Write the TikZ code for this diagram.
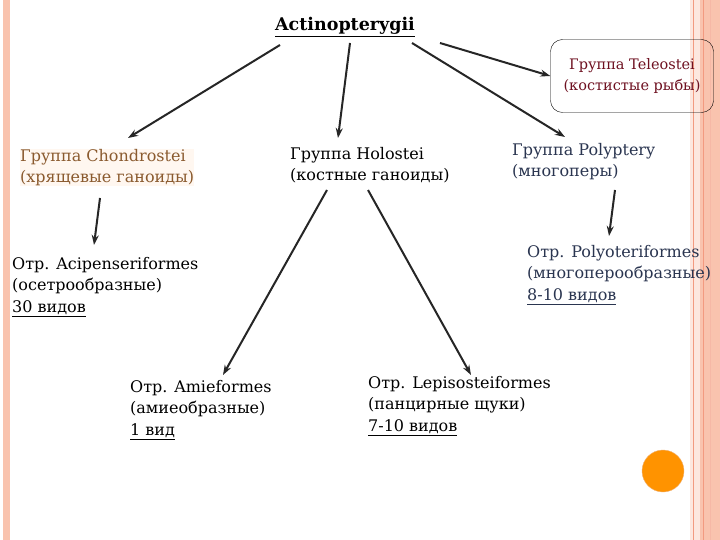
\documentclass[tikz,border=0pt]{standalone}
\usepackage{fontspec}
\setmainfont{DejaVu Serif}
\usetikzlibrary{arrows.meta}
\definecolor{salmon}{HTML}{F9C3AE}
\definecolor{salmonD}{HTML}{F29A80}
\definecolor{brownT}{HTML}{8A5A2E}
\definecolor{redT}{HTML}{6E1020}
\definecolor{blueT}{HTML}{2A3550}
\tikzset{
  lbl/.style={anchor=north west, align=left, inner sep=0pt, font=\fontsize{16}{21.5}\selectfont},
  arr/.style={-{Stealth[length=10pt,width=7pt]}, line width=2pt, black!85}
}
\begin{document}
\begin{tikzpicture}[x=1pt,y=-1pt]
\useasboundingbox (0,0) rectangle (720,540);
\fill[white] (0,0) rectangle (720,540);
% left stripe
\fill[salmon] (3,0) rectangle (10,540);
% right stripes
\fill[salmon!40] (690,0) rectangle (720,540);
\fill[salmon] (700,0) rectangle (720,540);
\draw[salmonD, line width=0.8pt] (693,0) -- (693,540);
\draw[salmonD, line width=1pt] (703,0) -- (703,540);
\draw[salmonD!70, line width=0.6pt] (710,0) -- (710,540);
% circle
\fill[orange!85!yellow, draw=orange!60!brown!60] (663,471) circle (21);

\node[anchor=center, inner sep=1pt, font=\fontsize{17.5}{19}\selectfont\bfseries] (act) at (345,27) {\underline{Actinopterygii}};
\node[draw, rounded corners=12pt, minimum width=163pt, minimum height=73pt, align=center, text=redT, font=\fontsize{14.5}{21.5}\selectfont] (tel) at (632,76) {Группа Teleostei\\(костистые рыбы)};
\node[lbl, text=brownT, fill=orange!6] (cho) at (20,149) {Группа Chondrostei\\(хрящевые ганоиды)};
\node[lbl] (hol) at (290,147) {Группа Holostei\\(костные ганоиды)};
\node[lbl, text=blueT] (pol) at (512,143) {Группа Polyptery\\(многоперы)};
\node[lbl, text=blueT] (polo) at (527,245) {Отр. Polyoteriformes\\(многоперообразные)\\\underline{8-10 видов}};
\node[lbl] (aci) at (12,257) {Отр. Acipenseriformes\\(осетрообразные)\\\underline{30 видов}};
\node[lbl] (ami) at (130,380) {Отр. Amieformes\\(амиеобразные)\\\underline{1 вид}};
\node[lbl] (lep) at (368,376) {Отр. Lepisosteiformes\\(панцирные щуки)\\\underline{7-10 видов}};

\coordinate (a1) at (280,45); \coordinate (b1) at (128,138);
\coordinate (a2) at (350,43); \coordinate (b2) at (338,138);
\coordinate (a3) at (412,43); \coordinate (b3) at (565,137);
\coordinate (a4) at (440,43); \coordinate (b4) at (tel.west);
\coordinate (a5) at (100,198); \coordinate (b5) at (94,245);
\coordinate (a6) at (327,190); \coordinate (b6) at (223,375);
\coordinate (a7) at (368,190); \coordinate (b7) at (471,375);
\coordinate (a8) at (615,190); \coordinate (b8) at (609,236);
\foreach \i in {1,...,8} \draw[arr] (a\i) -- (b\i);
\end{tikzpicture}
\end{document}
